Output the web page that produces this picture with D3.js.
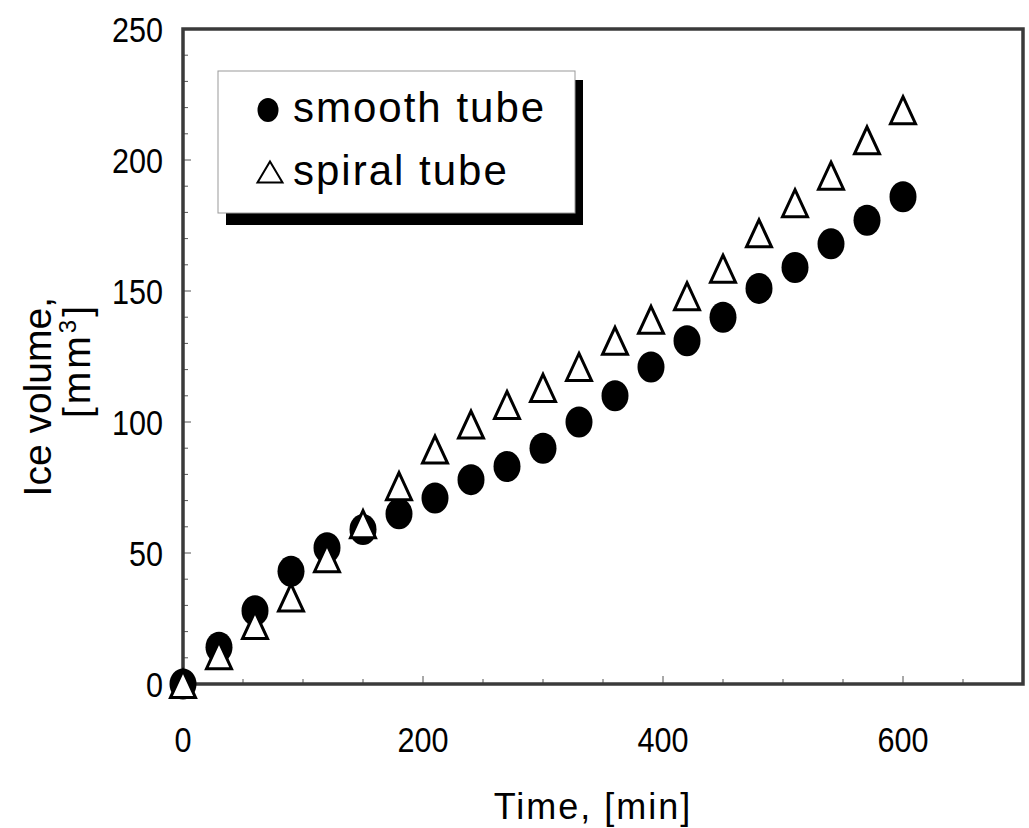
<!DOCTYPE html>
<html>
<head>
<meta charset="utf-8">
<script src="https://cdn.jsdelivr.net/npm/d3@7"></script>
<style>
  body { margin: 0; background: #fff; }
  svg { display: block; }
  .tick-label { font-family: "Liberation Sans", Arial, sans-serif; font-size: 36px; fill: #000; }
</style>
</head>
<body>
<svg id="chart" width="1029" height="828"></svg>
<script>
// --- data ---
const times = [0, 30, 60, 90, 120, 150, 180, 210, 240, 270, 300, 330, 360, 390, 420, 450, 480, 510, 540, 570, 600];
const smoothTube = [0, 14, 28, 43, 52, 59, 65, 71, 78, 83, 90, 100, 110, 121, 131, 140, 151, 159, 168, 177, 186];
const spiralTube = [0, 11, 22.5, 33, 48, 61, 75.5, 89.5, 99, 106.5, 113, 121, 131, 139, 148, 158.5, 172, 183.5, 194, 207.5, 219];
const xTickLabels = [0, 200, 400, 600];
const yTickLabels = [0, 50, 100, 150, 200, 250];
const legendLabels = ["smooth tube", "spiral tube"];

// --- layout ---
const plot = { left: 183, top: 29, right: 1023, bottom: 684 };
const svg = d3.select("#chart");

const x = d3.scaleLinear().domain([0, 700]).range([plot.left, plot.right]);
const y = d3.scaleLinear().domain([0, 250]).range([plot.bottom, plot.top]);

// inward ticks
const g = svg.append("g");
d3.range(0, 251, 10).forEach(v => {
    const len = v % 50 === 0 ? 8 : 5;
    g.append("line").attr("x1", plot.left).attr("x2", plot.left + len)
        .attr("y1", y(v)).attr("y2", y(v)).attr("stroke", "#555").attr("stroke-width", 1);
});
d3.range(0, 701, 50).forEach(v => {
    const len = v % 200 === 0 ? 8 : 5;
    g.append("line").attr("x1", x(v)).attr("x2", x(v))
        .attr("y1", plot.bottom).attr("y2", plot.bottom - len).attr("stroke", "#555").attr("stroke-width", 1);
});

// frame
svg.append("rect")
    .attr("x", plot.left).attr("y", plot.top)
    .attr("width", plot.right - plot.left).attr("height", plot.bottom - plot.top)
    .attr("fill", "none").attr("stroke", "#3a3a3a").attr("stroke-width", 3.5);

// tick labels (condensed digits)
svg.selectAll("text.ylab").data(yTickLabels).enter().append("text")
    .attr("class", "tick-label ylab")
    .attr("transform", d => `translate(163,${y(d)}) scale(0.85,1)`)
    .attr("dy", "0.36em")
    .attr("text-anchor", "end").text(d => d);

svg.selectAll("text.xlab").data(xTickLabels).enter().append("text")
    .attr("class", "tick-label xlab")
    .attr("transform", d => `translate(${x(d)},752) scale(0.85,1)`)
    .attr("text-anchor", "middle").text(d => d);

// axis titles
svg.append("text")
    .attr("x", 593).attr("y", 819)
    .attr("text-anchor", "middle")
    .style("font-family", "'Liberation Sans', sans-serif")
    .style("font-size", "36px").style("letter-spacing", "2px")
    .text("Time, [min]");

const yTitle = svg.append("g").attr("transform", "rotate(-90)");
yTitle.append("text")
    .attr("x", -297).attr("y", 51)
    .attr("text-anchor", "end")
    .style("font-family", "'Liberation Sans', Arial, sans-serif").style("font-size", "39px")
    .text("Ice volume,");
const unit = yTitle.append("text")
    .attr("x", -303).attr("y", 90)
    .attr("text-anchor", "end")
    .style("font-family", "'Liberation Sans', Arial, sans-serif").style("font-size", "39px")
    .style("letter-spacing", "3px");
unit.append("tspan").text("[mm");
unit.append("tspan").attr("dy", -14).style("font-size", "24px").text("3");
unit.append("tspan").attr("dy", 14).text("]");

// markers
function trianglePath(cx, cy, w, h) {
    return `M${cx},${cy - h / 2}L${cx + w / 2},${cy + h / 2}L${cx - w / 2},${cy + h / 2}Z`;
}

svg.append("g").selectAll("ellipse").data(times).enter().append("ellipse")
    .attr("cx", (d) => x(d)).attr("cy", (d, i) => y(smoothTube[i]))
    .attr("rx", 13.5).attr("ry", 15.5).attr("fill", "#000");

svg.append("g").selectAll("path").data(times).enter().append("path")
    .attr("d", (d, i) => trianglePath(x(d), y(spiralTube[i]), 25, 27))
    .attr("fill", "#fff").attr("stroke", "#000").attr("stroke-width", 3)
    .attr("stroke-linejoin", "miter");

// legend
const lg = svg.append("g");
lg.append("rect").attr("x", 226).attr("y", 80).attr("width", 357).attr("height", 145).attr("fill", "#000");
lg.append("rect").attr("x", 218).attr("y", 71).attr("width", 357).attr("height", 142)
    .attr("fill", "#fff").attr("stroke", "#999").attr("stroke-width", 1);
lg.append("ellipse").attr("cx", 268).attr("cy", 110).attr("rx", 10.5).attr("ry", 12).attr("fill", "#000");
lg.append("path").attr("d", trianglePath(270, 172, 25, 21))
    .attr("fill", "#fff").attr("stroke", "#000").attr("stroke-width", 2);
lg.selectAll("text").data(legendLabels).enter().append("text")
    .attr("x", 293).attr("y", (d, i) => 122 + i * 63)
    .style("font-family", "'Liberation Sans', Arial, sans-serif")
    .style("font-size", "42px").style("letter-spacing", "2px")
    .text(d => d);
</script>
</body>
</html>
